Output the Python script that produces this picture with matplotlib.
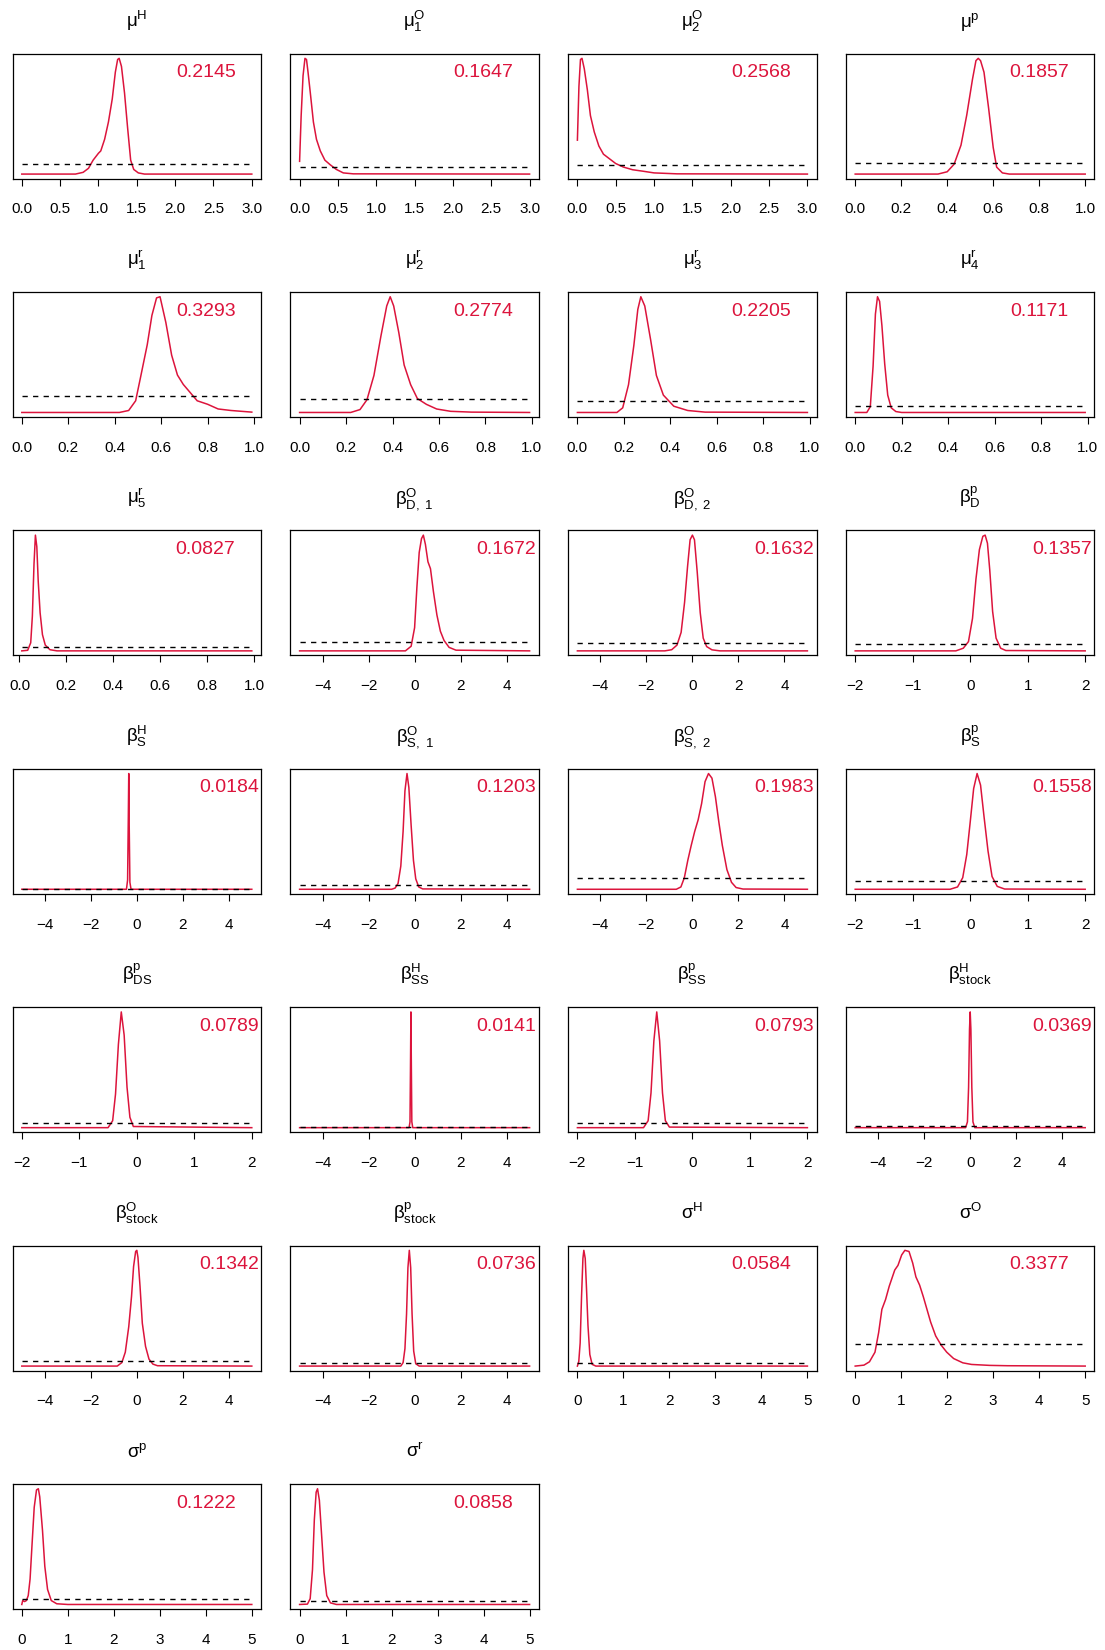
import numpy as np
import matplotlib
matplotlib.use("Agg")
import matplotlib.pyplot as plt
from matplotlib.ticker import MaxNLocator

plt.rcParams['font.family'] = ['Liberation Sans', 'DejaVu Sans']
plt.rcParams['mathtext.fontset'] = 'custom'
plt.rcParams['mathtext.rm'] = 'Liberation Sans'
plt.rcParams['mathtext.it'] = 'Liberation Sans:italic'
plt.rcParams['mathtext.bf'] = 'Liberation Sans:bold'

# posterior densities, scaled so that the mode is 1
muH_x = [0, 0.7, 0.8, 0.87, 0.93, 1.0, 1.03, 1.08, 1.13, 1.18, 1.22, 1.25, 1.27, 1.30, 1.34, 1.38, 1.42, 1.46, 1.52, 1.6, 3.0]
muH_y = [0, 0, 0.015, 0.05, 0.12, 0.18, 0.2, 0.3, 0.45, 0.65, 0.88, 0.99, 1.0, 0.93, 0.7, 0.4, 0.12, 0.04, 0.01, 0, 0]
muO1_x = [0, 0.02, 0.045, 0.07, 0.09, 0.11, 0.14, 0.18, 0.22, 0.27, 0.33, 0.4, 0.48, 0.57, 0.7, 3.0]
muO1_y = [0.11, 0.5, 0.85, 1.0, 0.99, 0.88, 0.7, 0.45, 0.3, 0.2, 0.12, 0.08, 0.04, 0.01, 0.002, 0]
muO2_x = [0, 0.02, 0.04, 0.06, 0.09, 0.13, 0.17, 0.22, 0.28, 0.34, 0.42, 0.5, 0.6, 0.72, 0.85, 1.0, 1.3, 3.0]
muO2_y = [0.29, 0.75, 0.98, 0.99, 0.9, 0.72, 0.5, 0.36, 0.24, 0.17, 0.13, 0.09, 0.06, 0.037, 0.025, 0.01, 0.002, 0]
mup_x = [0, 0.36, 0.4, 0.43, 0.46, 0.485, 0.51, 0.525, 0.535, 0.545, 0.56, 0.58, 0.6, 0.615, 0.64, 0.67, 1.0]
mup_y = [0, 0, 0.02, 0.085, 0.25, 0.51, 0.82, 0.98, 1.0, 0.98, 0.88, 0.57, 0.23, 0.06, 0.01, 0, 0]

mur1_x = [0, 0.42, 0.46, 0.49, 0.51, 0.54, 0.56, 0.58, 0.595, 0.62, 0.645, 0.67, 0.695, 0.725, 0.755, 0.8, 0.845, 0.9, 0.99]
mur1_y = [0, 0, 0.017, 0.1, 0.29, 0.58, 0.83, 0.98, 0.99, 0.77, 0.49, 0.32, 0.24, 0.17, 0.1, 0.07, 0.03, 0.017, 0.003]
mur2_x = [0, 0.22, 0.26, 0.29, 0.32, 0.35, 0.375, 0.39, 0.405, 0.427, 0.45, 0.478, 0.507, 0.546, 0.59, 0.65, 0.74, 0.99]
mur2_y = [0, 0, 0.025, 0.11, 0.32, 0.66, 0.92, 1.0, 0.92, 0.69, 0.41, 0.24, 0.12, 0.07, 0.03, 0.01, 0.003, 0]
mur3_x = [0, 0.17, 0.195, 0.22, 0.243, 0.26, 0.273, 0.29, 0.315, 0.34, 0.37, 0.415, 0.475, 0.55, 0.99]
mur3_y = [0, 0, 0.04, 0.24, 0.58, 0.89, 1.0, 0.92, 0.63, 0.32, 0.15, 0.054, 0.017, 0.003, 0]
mur4_x = [0, 0.05, 0.065, 0.077, 0.087, 0.096, 0.105, 0.115, 0.127, 0.14, 0.155, 0.175, 0.2, 0.99]
mur4_y = [0, 0, 0.05, 0.4, 0.85, 1.0, 0.96, 0.75, 0.42, 0.15, 0.04, 0.008, 0, 0]

mur5_x = [0.01, 0.035, 0.048, 0.055, 0.062, 0.068, 0.074, 0.08, 0.088, 0.098, 0.11, 0.13, 0.16, 0.99]
mur5_y = [0, 0.005, 0.07, 0.3, 0.75, 1.0, 0.9, 0.6, 0.33, 0.14, 0.05, 0.01, 0, 0]
bOD1_x = [-5, -0.4, -0.15, 0.0, 0.1, 0.2, 0.3, 0.38, 0.47, 0.58, 0.69, 0.82, 0.97, 1.12, 1.28, 1.5, 1.8, 5]
bOD1_y = [0, 0, 0.04, 0.2, 0.55, 0.85, 0.97, 1.0, 0.92, 0.77, 0.71, 0.51, 0.31, 0.17, 0.09, 0.03, 0.006, 0]
bOD2_x = [-5, -1.2, -0.9, -0.67, -0.49, -0.34, -0.21, -0.1, 0.0, 0.09, 0.21, 0.34, 0.47, 0.62, 0.85, 1.2, 5]
bOD2_y = [0, 0, 0.01, 0.05, 0.16, 0.42, 0.73, 0.96, 1.0, 0.96, 0.68, 0.33, 0.11, 0.037, 0.009, 0, 0]
bpD_x = [-2, -0.25, -0.12, -0.03, 0.04, 0.1, 0.16, 0.22, 0.26, 0.3, 0.34, 0.39, 0.45, 0.53, 0.62, 2]
bpD_y = [0, 0, 0.023, 0.08, 0.28, 0.62, 0.875, 0.99, 1.0, 0.93, 0.7, 0.34, 0.11, 0.023, 0.003, 0]

bHS_x = [-5, -0.45, -0.40, -0.37, -0.35, -0.33, -0.30, -0.25, 5]
bHS_y = [0, 0, 0.08, 0.6, 1.0, 0.55, 0.06, 0, 0]
bOS1_x = [-5, -1.0, -0.85, -0.72, -0.6, -0.5, -0.42, -0.33, -0.25, -0.15, -0.05, 0.05, 0.18, 0.35, 5]
bOS1_y = [0, 0, 0.01, 0.05, 0.2, 0.5, 0.85, 1.0, 0.88, 0.55, 0.25, 0.09, 0.02, 0.003, 0]
bOS2_x = [-5, -0.7, -0.5, -0.35, -0.2, -0.05, 0.1, 0.25, 0.4, 0.55, 0.7, 0.85, 1.0, 1.15, 1.3, 1.5, 1.7, 1.9, 2.2, 5]
bOS2_y = [0, 0, 0.02, 0.1, 0.25, 0.38, 0.5, 0.6, 0.74, 0.93, 1.0, 0.96, 0.8, 0.58, 0.38, 0.17, 0.06, 0.015, 0.002, 0]
bpS_x = [-2, -0.35, -0.22, -0.13, -0.06, 0.0, 0.06, 0.12, 0.18, 0.24, 0.31, 0.38, 0.47, 0.6, 2]
bpS_y = [0, 0, 0.02, 0.1, 0.3, 0.58, 0.87, 1.0, 0.9, 0.63, 0.33, 0.11, 0.025, 0.002, 0]

bpDS_x = [-2, -0.5, -0.42, -0.37, -0.32, -0.27, -0.22, -0.17, -0.12, -0.06, 2]
bpDS_y = [0, 0, 0.06, 0.29, 0.72, 1.0, 0.8, 0.35, 0.09, 0.01, 0]
bHSS_x = [-5, -0.24, -0.2, -0.18, -0.16, -0.14, -0.12, -0.08, 5]
bHSS_y = [0, 0, 0.05, 0.5, 1.0, 0.5, 0.05, 0, 0]
bpSS_x = [-2, -0.85, -0.77, -0.72, -0.67, -0.62, -0.57, -0.52, -0.47, -0.4, 2]
bpSS_y = [0, 0, 0.06, 0.3, 0.75, 1.0, 0.75, 0.3, 0.06, 0.005, 0]
bHst_x = [-5, -0.2, -0.12, -0.07, -0.03, 0.0, 0.03, 0.07, 0.12, 0.2, 5]
bHst_y = [0, 0, 0.05, 0.35, 0.85, 1.0, 0.85, 0.35, 0.05, 0, 0]

bOst_x = [-5, -0.85, -0.65, -0.5, -0.35, -0.23, -0.14, -0.05, 0.0, 0.05, 0.14, 0.24, 0.38, 0.53, 0.7, 0.9, 5]
bOst_y = [0, 0, 0.03, 0.12, 0.34, 0.6, 0.86, 0.99, 1.0, 0.94, 0.69, 0.37, 0.17, 0.06, 0.017, 0.003, 0]
bpst_x = [-5, -0.6, -0.5, -0.42, -0.35, -0.29, -0.23, -0.17, -0.11, -0.04, 0.05, 0.2, 5]
bpst_y = [0, 0, 0.03, 0.15, 0.45, 0.85, 1.0, 0.85, 0.45, 0.13, 0.02, 0, 0]
sH_x = [0.0, 0.03, 0.06, 0.09, 0.12, 0.14, 0.17, 0.2, 0.23, 0.27, 0.32, 0.4, 5]
sH_y = [0.0, 0.04, 0.2, 0.6, 0.93, 1.0, 0.93, 0.65, 0.35, 0.1, 0.015, 0, 0]
sO_x = [0, 0.19, 0.31, 0.43, 0.51, 0.58, 0.66, 0.74, 0.86, 0.93, 1.01, 1.08, 1.17, 1.25, 1.32, 1.4,
        1.48, 1.56, 1.64, 1.75, 1.87, 1.99, 2.14, 2.34, 2.53, 2.92, 3.31, 5]
sO_y = [0, 0.008, 0.037, 0.12, 0.29, 0.49, 0.575, 0.69, 0.83, 0.87, 0.96, 1.0, 0.99, 0.89, 0.77, 0.7,
        0.6, 0.49, 0.38, 0.26, 0.18, 0.12, 0.065, 0.028, 0.014, 0.006, 0.003, 0]

sp_x = [0, 0.02, 0.06, 0.1, 0.14, 0.18, 0.22, 0.27, 0.32, 0.36, 0.39, 0.45, 0.5, 0.56, 0.64, 0.76, 1.0, 5]
sp_y = [0, 0.034, 0.025, 0.034, 0.077, 0.22, 0.5, 0.84, 0.99, 1.0, 0.93, 0.64, 0.33, 0.13, 0.034, 0.006, 0, 0]
sr_x = [0, 0.17, 0.23, 0.28, 0.32, 0.36, 0.39, 0.43, 0.48, 0.53, 0.59, 0.67, 0.8, 5]
sr_y = [0, 0.003, 0.05, 0.3, 0.73, 0.97, 1.0, 0.9, 0.59, 0.28, 0.077, 0.014, 0, 0]

# flat prior density, same scale as the posteriors
prior_lvl = [0.091, 0.057, 0.076, 0.093,
             0.144, 0.119, 0.096, 0.054,
             0.031, 0.077, 0.065, 0.06,
             0.006, 0.04, 0.1, 0.074,
             0.037, 0.006, 0.037, 0.017,
             0.046, 0.03, 0.028, 0.193,
             0.048, 0.034]

values = ['0.2145', '0.1647', '0.2568', '0.1857',
          '0.3293', '0.2774', '0.2205', '0.1171',
          '0.0827', '0.1672', '0.1632', '0.1357',
          '0.0184', '0.1203', '0.1983', '0.1558',
          '0.0789', '0.0141', '0.0793', '0.0369',
          '0.1342', '0.0736', '0.0584', '0.3377',
          '0.1222', '0.0858']

titles = [r'$\mathrm{μ}^{\mathrm{H}}$', r'$\mathrm{μ}_{\mathrm{1}}^{\mathrm{O}}$',
          r'$\mathrm{μ}_{\mathrm{2}}^{\mathrm{O}}$', r'$\mathrm{μ}^{\mathrm{p}}$',
          r'$\mathrm{μ}_{\mathrm{1}}^{\mathrm{r}}$', r'$\mathrm{μ}_{\mathrm{2}}^{\mathrm{r}}$',
          r'$\mathrm{μ}_{\mathrm{3}}^{\mathrm{r}}$', r'$\mathrm{μ}_{\mathrm{4}}^{\mathrm{r}}$',
          r'$\mathrm{μ}_{\mathrm{5}}^{\mathrm{r}}$', r'$\mathrm{β}_{\mathrm{D,\ 1}}^{\mathrm{O}}$',
          r'$\mathrm{β}_{\mathrm{D,\ 2}}^{\mathrm{O}}$', r'$\mathrm{β}_{\mathrm{D}}^{\mathrm{p}}$',
          r'$\mathrm{β}_{\mathrm{S}}^{\mathrm{H}}$', r'$\mathrm{β}_{\mathrm{S,\ 1}}^{\mathrm{O}}$',
          r'$\mathrm{β}_{\mathrm{S,\ 2}}^{\mathrm{O}}$', r'$\mathrm{β}_{\mathrm{S}}^{\mathrm{p}}$',
          r'$\mathrm{β}_{\mathrm{DS}}^{\mathrm{p}}$', r'$\mathrm{β}_{\mathrm{SS}}^{\mathrm{H}}$',
          r'$\mathrm{β}_{\mathrm{SS}}^{\mathrm{p}}$', r'$\mathrm{β}_{\mathrm{stock}}^{\mathrm{H}}$',
          r'$\mathrm{β}_{\mathrm{stock}}^{\mathrm{O}}$', r'$\mathrm{β}_{\mathrm{stock}}^{\mathrm{p}}$',
          r'$\mathrm{σ}^{\mathrm{H}}$', r'$\mathrm{σ}^{\mathrm{O}}$',
          r'$\mathrm{σ}^{\mathrm{p}}$', r'$\mathrm{σ}^{\mathrm{r}}$']

post_x = [muH_x, muO1_x, muO2_x, mup_x, mur1_x, mur2_x, mur3_x, mur4_x,
          mur5_x, bOD1_x, bOD2_x, bpD_x, bHS_x, bOS1_x, bOS2_x, bpS_x,
          bpDS_x, bHSS_x, bpSS_x, bHst_x, bOst_x, bpst_x, sH_x, sO_x, sp_x, sr_x]
post_y = [muH_y, muO1_y, muO2_y, mup_y, mur1_y, mur2_y, mur3_y, mur4_y,
          mur5_y, bOD1_y, bOD2_y, bpD_y, bHS_y, bOS1_y, bOS2_y, bpS_y,
          bpDS_y, bHSS_y, bpSS_y, bHst_y, bOst_y, bpst_y, sH_y, sO_y, sp_y, sr_y]

red = '#DC143C'
W, H = 1105, 1650
fig = plt.figure(figsize=(W / 100, H / 100), dpi=100)

left0, top0 = 12.6, 53.7
colstep, rowstep = 277.8, 238.4
aw, ah = 248.4, 125.0

for i in range(len(titles)):
    r, c = divmod(i, 4)
    x0 = left0 + c * colstep
    y0 = top0 + r * rowstep
    ax = fig.add_axes([x0 / W, 1 - (y0 + ah) / H, aw / W, ah / H])

    x = np.array(post_x[i])
    y = np.array(post_y[i])
    ax.plot(x, y, color=red, lw=1.1)
    ax.plot([x[0], x[-1]], [prior_lvl[i], prior_lvl[i]], color='black',
            lw=1.0, linestyle=(0, (3.8, 3.8)))

    xr = x[-1] - x[0]
    ax.set_xlim(x[0] - 0.04 * xr, x[-1] + 0.04 * xr)
    ymax = max(y.max(), prior_lvl[i])
    ax.set_ylim(-0.04 * ymax, 1.04 * ymax)

    ax.xaxis.set_major_locator(MaxNLocator(nbins=8, steps=[1, 2, 5, 10]))
    ax.set_yticks([])
    ax.tick_params(axis='x', direction='out', length=5, width=0.8, pad=12, labelsize=11)
    for s in ax.spines.values():
        s.set_linewidth(0.9)

    ax.text(0.8 * x[-1], 0.875 * y.max(), values[i], color=red, fontsize=14,
            ha='center', va='center')
    ax.text(0.5, 1.216, titles[i], transform=ax.transAxes, ha='center',
            va='baseline', fontsize=13.5)

fig.savefig('out.png', dpi=100)
